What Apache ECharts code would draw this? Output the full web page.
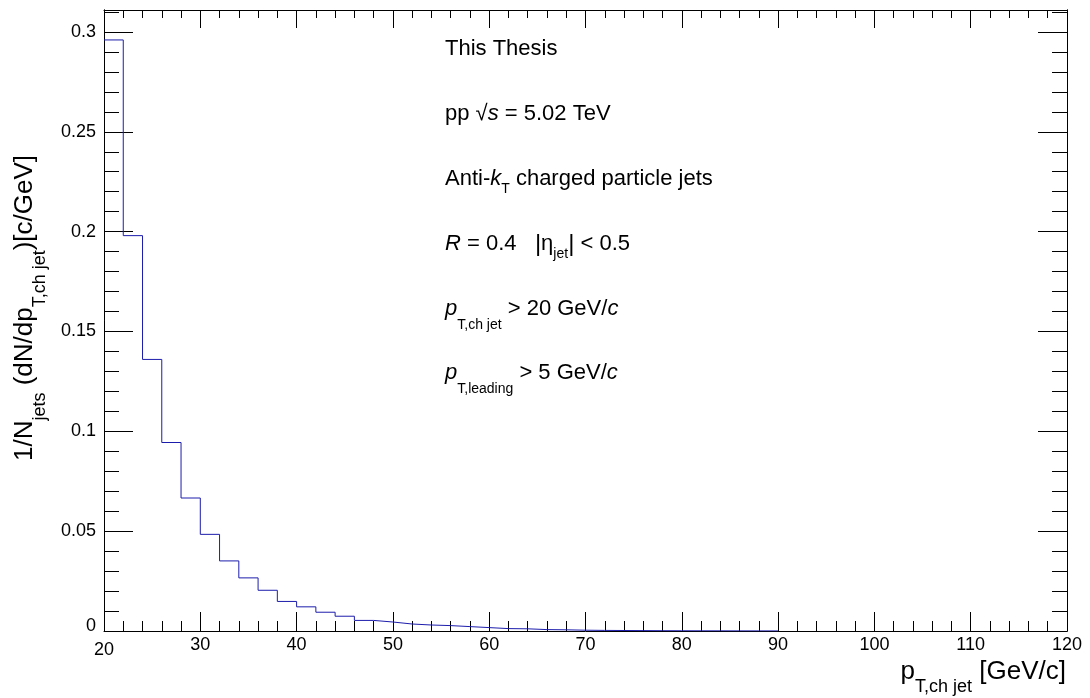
<!DOCTYPE html>
<html>
<head>
<meta charset="utf-8">
<script src="https://cdn.jsdelivr.net/npm/echarts@6/dist/echarts.min.js"></script>
<style>
html,body{margin:0;padding:0;background:#fff;}
#chart{width:1090px;height:698px;}
</style>
</head>
<body>
<div id="chart"></div>
<script>
// ---- data ----
const binLowEdges = [20,22,24,26,28,30,32,34,36,38,40,42,44,46,48,50,52,54,56,58,60,62,64,66,68,70,72,74,76,78,80,82,84,86,88];
const binWidth = 2;
const jetYield = [0.296,0.198,0.136,0.0944,0.0666,0.0484,0.0351,0.0266,0.0204,0.0148,0.0121,0.0094,0.0074,0.0053,0.0045,0.0035,0.0030,0.0027,0.0022,0.0017,0.0012,0.0011,0.0007,0.0006,0.0004,0.0003,0.00025,0.0002,0.00015,0.00012,0.0001,0.00008,0.00006,0.00005,0.00004];
const xRange = [20, 120];
const yRange = [0, 0.311];
const yLabelValues = [0, 0.05, 0.1, 0.15, 0.2, 0.25, 0.3];

// build step-histogram path points
const histData = binLowEdges.map((x, i) => [x, jetYield[i]]);
const lastEdge = binLowEdges[binLowEdges.length - 1] + binWidth;
histData.push([lastEdge, jetYield[jetYield.length - 1]]);
histData.push([lastEdge, 0]);

const FONT = '"Liberation Sans", Arial, Helvetica, sans-serif';
const black = '#000';

function subRich(F, sRatio, lRatio, tPad) {
  const S = Math.round(F * sRatio);
  const L = Math.round(F * lRatio);
  return {
    n: {fontFamily: FONT, fontSize: F, lineHeight: L, verticalAlign: 'middle', color: black},
    i: {fontFamily: FONT, fontSize: F, lineHeight: L, verticalAlign: 'middle', color: black, fontStyle: 'italic'},
    b: {fontFamily: FONT, fontSize: Math.round(F * 1.1), lineHeight: L, verticalAlign: 'middle', color: black},
    s: {fontFamily: FONT, fontSize: S, lineHeight: S, verticalAlign: 'bottom', color: black},
    t: {fontFamily: FONT, fontSize: S, verticalAlign: 'bottom', color: black, padding: [0, 0, tPad, 0]}
  };
}

const chart = echarts.init(document.getElementById('chart'), null, {renderer: 'canvas'});

function mkX(pos, showLabel, major, minor) {
  return {
    type: 'value', position: pos, min: xRange[0], max: xRange[1], interval: 10,
    axisLine: {show: true, onZero: false, lineStyle: {color: black, width: 1}},
    axisTick: {show: true, inside: true, length: major, lineStyle: {color: black, width: 1}},
    minorTick: {show: true, splitNumber: 5, length: minor, lineStyle: {color: black, width: 1}},
    splitLine: {show: false}, minorSplitLine: {show: false},
    axisLabel: {
      show: showLabel, color: black, fontFamily: FONT, fontSize: 18, margin: 5,
      formatter: function (v) { return v === xRange[0] ? '{f|' + v + '}' : String(v); },
      rich: {f: {fontFamily: FONT, fontSize: 18, color: black, padding: [5, 0, 0, 0]}}
    }
  };
}
function mkY(pos, interval, len, showLabel) {
  return {
    type: 'value', position: pos, min: yRange[0], max: yRange[1], interval: interval,
    axisLine: {show: true, onZero: false, lineStyle: {color: black, width: 1}},
    axisTick: {show: true, inside: true, length: len, lineStyle: {color: black, width: 1}},
    splitLine: {show: false},
    axisLabel: {
      show: showLabel, color: black, fontFamily: FONT, fontSize: 18, margin: 8,
      showMaxLabel: false,
      formatter: function (v) {
        for (const lv of yLabelValues) {
          if (Math.abs(lv - v) < 1e-6) return lv === 0 ? '{z|0}' : String(lv);
        }
        return '';
      },
      rich: {z: {fontFamily: FONT, fontSize: 18, color: black, padding: [0, 0, 10, 0]}}
    }
  };
}

const titleF = 26;
const annF = 22;
const titleRich = subRich(titleF, 0.7, 1.9, 0);
const annRich = subRich(annF, 0.65, 2.09, 6);

const option = {
  animation: false,
  backgroundColor: '#fff',
  grid: {left: 104, right: 23, top: 10, bottom: 67, containLabel: false},
  xAxis: [mkX('bottom', true, 19, 10), mkX('top', false, 18, 8)],
  yAxis: [mkY('left', 0.05, 29, true), mkY('left', 0.01, 15, false), mkY('right', 0.05, 29, false), mkY('right', 0.01, 15, false)],
  series: [{
    type: 'line', xAxisIndex: 0, yAxisIndex: 0, step: 'end', symbol: 'none',
    data: histData, lineStyle: {color: '#1c1cac', width: 1}, clip: true
  }],
  graphic: [
    // x-axis title
    {type: 'text', x: 1066, y: 672, style: {
      text: '{n|p}{s|T,ch jet}{n| [GeV/c]}', rich: titleRich,
      textAlign: 'right', textVerticalAlign: 'middle'}},
    // y-axis title
    {type: 'text', x: 25, y: 308, rotation: Math.PI / 2, style: {
      text: '{n|1/N}{s|jets}{n| (dN/dp}{s|T,ch jet}{n|)[c/GeV]}', rich: titleRich,
      textAlign: 'center', textVerticalAlign: 'middle'}},
    // annotations
    {type: 'text', x: 445, y: 49, style: {text: '{n|This Thesis}', rich: annRich, textAlign: 'left', textVerticalAlign: 'middle'}},
    {type: 'text', x: 445, y: 114, style: {text: '{n|pp √}{i|s}{n| = 5.02 TeV}', rich: annRich, textAlign: 'left', textVerticalAlign: 'middle'}},
    {type: 'text', x: 445, y: 179, style: {text: '{n|Anti-}{i|k}{t|T}{n| charged particle jets}', rich: annRich, textAlign: 'left', textVerticalAlign: 'middle'}},
    {type: 'text', x: 445, y: 244, style: {text: '{i|R}{n| = 0.4   }{b||}{n|η}{t|jet}{b||}{n| < 0.5}', rich: annRich, textAlign: 'left', textVerticalAlign: 'middle'}},
    {type: 'text', x: 445, y: 309, style: {text: '{i|p}{s|T,ch jet}{n| > 20 GeV/}{i|c}', rich: annRich, textAlign: 'left', textVerticalAlign: 'middle'}},
    {type: 'text', x: 445, y: 373, style: {text: '{i|p}{s|T,leading}{n| > 5 GeV/}{i|c}', rich: annRich, textAlign: 'left', textVerticalAlign: 'middle'}}
  ]
};
chart.setOption(option);
</script>
</body>
</html>
